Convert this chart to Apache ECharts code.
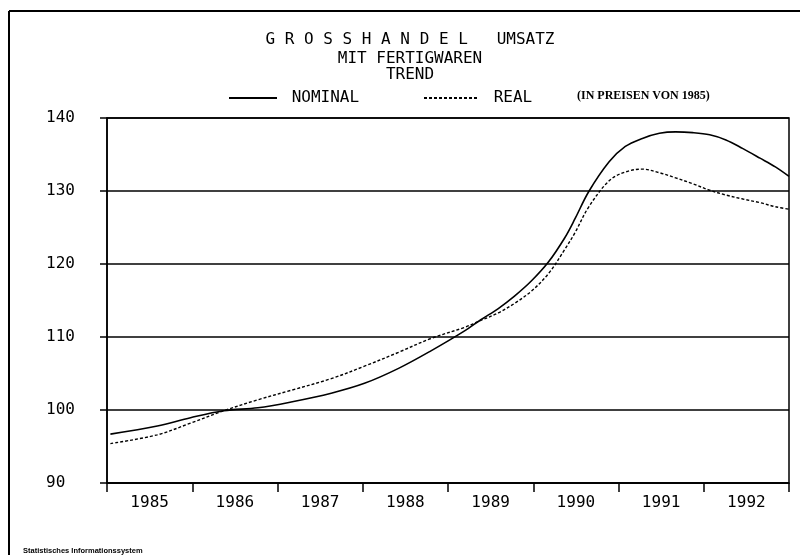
<!DOCTYPE html>
<html>
<head>
<meta charset="utf-8">
<script src="https://cdn.jsdelivr.net/npm/echarts@6/dist/echarts.min.js"></script>
<style>
  html, body { margin: 0; padding: 0; background: #fff; }
  #chart { width: 800px; height: 555px; }
</style>
</head>
<body>
<div id="chart"></div>
<script>
// year labels under the axis
var years = ['1985', '1986', '1987', '1988', '1989', '1990', '1991', '1992'];
var yTicks = [90, 100, 110, 120, 130, 140];

// time position (fractional year) of each reading
var zeit = [1985.04, 1985.59, 1985.98, 1986.37, 1986.77, 1987.16, 1987.63, 1988.02,
            1988.42, 1988.80, 1989.19, 1989.39, 1989.59, 1989.78, 1989.98, 1990.18,
            1990.37, 1990.49, 1990.65, 1990.89, 1991.08, 1991.28, 1991.48, 1991.67,
            1991.87, 1992.07, 1992.26, 1992.46, 1992.66, 1992.84, 1993.00];
var nominal = [96.7, 97.8, 98.95, 99.9, 100.3, 101.1, 102.3, 103.65,
               105.7, 108.1, 110.8, 112.4, 113.9, 115.6, 117.7, 120.3,
               123.6, 126.2, 129.9, 134.0, 136.1, 137.2, 137.9, 138.1,
               138.0, 137.7, 137.0, 135.8, 134.5, 133.3, 132.0];
var real = [95.4, 96.6, 98.2, 99.9, 101.4, 102.7, 104.3, 106.0,
            107.9, 109.8, 111.3, 112.3, 113.3, 114.6, 116.3, 118.7,
            122.0, 124.3, 127.8, 131.4, 132.6, 133.0, 132.5, 131.8,
            131.0, 130.1, 129.45, 128.9, 128.4, 127.85, 127.5];

var mono = '"DejaVu Sans Mono", monospace';

function paare(xs, ys) {
    var out = [];
    for (var i = 0; i < xs.length; i++) {
        out.push([xs[i], ys[i]]);
    }
    return out;
}

var legendText = { fontFamily: mono, fontSize: 16, color: '#000' };

var chart = echarts.init(document.getElementById('chart'));
var option = {
    backgroundColor: '#fff',
    animation: false,
    grid: {
        left: 107, right: 11, top: 118, bottom: 72,
        show: true, borderColor: '#000', borderWidth: 1.5
    },
    legend: [{
        data: ['NOMINAL'],
        left: 223, top: 85,
        itemWidth: 48, itemHeight: 12,
        itemStyle: { opacity: 0 },
        formatter: ' {name}',
        textStyle: legendText
    }, {
        data: ['REAL'],
        left: 418, top: 85,
        itemWidth: 55, itemHeight: 12,
        itemStyle: { opacity: 0 },
        formatter: ' {name}',
        textStyle: legendText
    }],
    xAxis: [{
        type: 'category',
        data: years,
        boundaryGap: true,
        axisLine: { lineStyle: { color: '#000', width: 1.5 } },
        axisTick: { show: true, length: 9, lineStyle: { color: '#000', width: 1.5 } },
        axisLabel: { color: '#000', fontFamily: mono, fontSize: 16, margin: 12 },
        splitLine: { show: false }
    }, {
        type: 'value',
        min: 1985, max: 1993,
        show: false
    }],
    yAxis: {
        type: 'value',
        min: 90, max: 140, interval: 10,
        axisLine: { show: true, lineStyle: { color: '#000', width: 1.5 } },
        axisTick: { show: true, length: 7, lineStyle: { color: '#000', width: 1.5 } },
        axisLabel: {
            color: '#000', fontFamily: mono, fontSize: 16,
            align: 'left', margin: 61
        },
        splitLine: { lineStyle: { color: '#000', width: 1.5 } }
    },
    series: [{
        name: 'NOMINAL',
        type: 'line',
        xAxisIndex: 1,
        smooth: 0.35,
        symbol: 'none',
        lineStyle: { color: '#000', width: 1.6 },
        itemStyle: { color: '#000' },
        data: paare(zeit, nominal)
    }, {
        name: 'REAL',
        type: 'line',
        xAxisIndex: 1,
        smooth: 0.35,
        symbol: 'none',
        lineStyle: { color: '#000', width: 1.4, type: [3, 2] },
        itemStyle: { color: '#000' },
        data: paare(zeit, real)
    }],
    graphic: [
        // outer frame (top and left)
        { type: 'line', shape: { x1: 9, y1: 11, x2: 800, y2: 11 }, style: { stroke: '#000', lineWidth: 2 } },
        { type: 'line', shape: { x1: 9, y1: 11, x2: 9, y2: 555 }, style: { stroke: '#000', lineWidth: 2 } },
        { type: 'text', style: { text: 'G R O S S H A N D E L   UMSATZ', x: 410, y: 40,
            textAlign: 'center', textVerticalAlign: 'middle', font: '16px ' + mono, fill: '#000' } },
        { type: 'text', style: { text: 'MIT FERTIGWAREN', x: 410, y: 59,
            textAlign: 'center', textVerticalAlign: 'middle', font: '16px ' + mono, fill: '#000' } },
        { type: 'text', style: { text: 'TREND', x: 410, y: 75,
            textAlign: 'center', textVerticalAlign: 'middle', font: '16px ' + mono, fill: '#000' } },
        { type: 'text', style: { text: '(IN PREISEN VON 1985)', x: 577, y: 96,
            textAlign: 'left', textVerticalAlign: 'middle',
            font: 'bold 12px "Liberation Serif", serif', fill: '#000' } },
        { type: 'text', style: { text: 'Statistisches Informationssystem', x: 23, y: 551,
            textAlign: 'left', textVerticalAlign: 'middle',
            font: 'bold 7.5px "Liberation Sans", sans-serif', fill: '#000' } }
    ]
};
chart.setOption(option);
</script>
</body>
</html>
